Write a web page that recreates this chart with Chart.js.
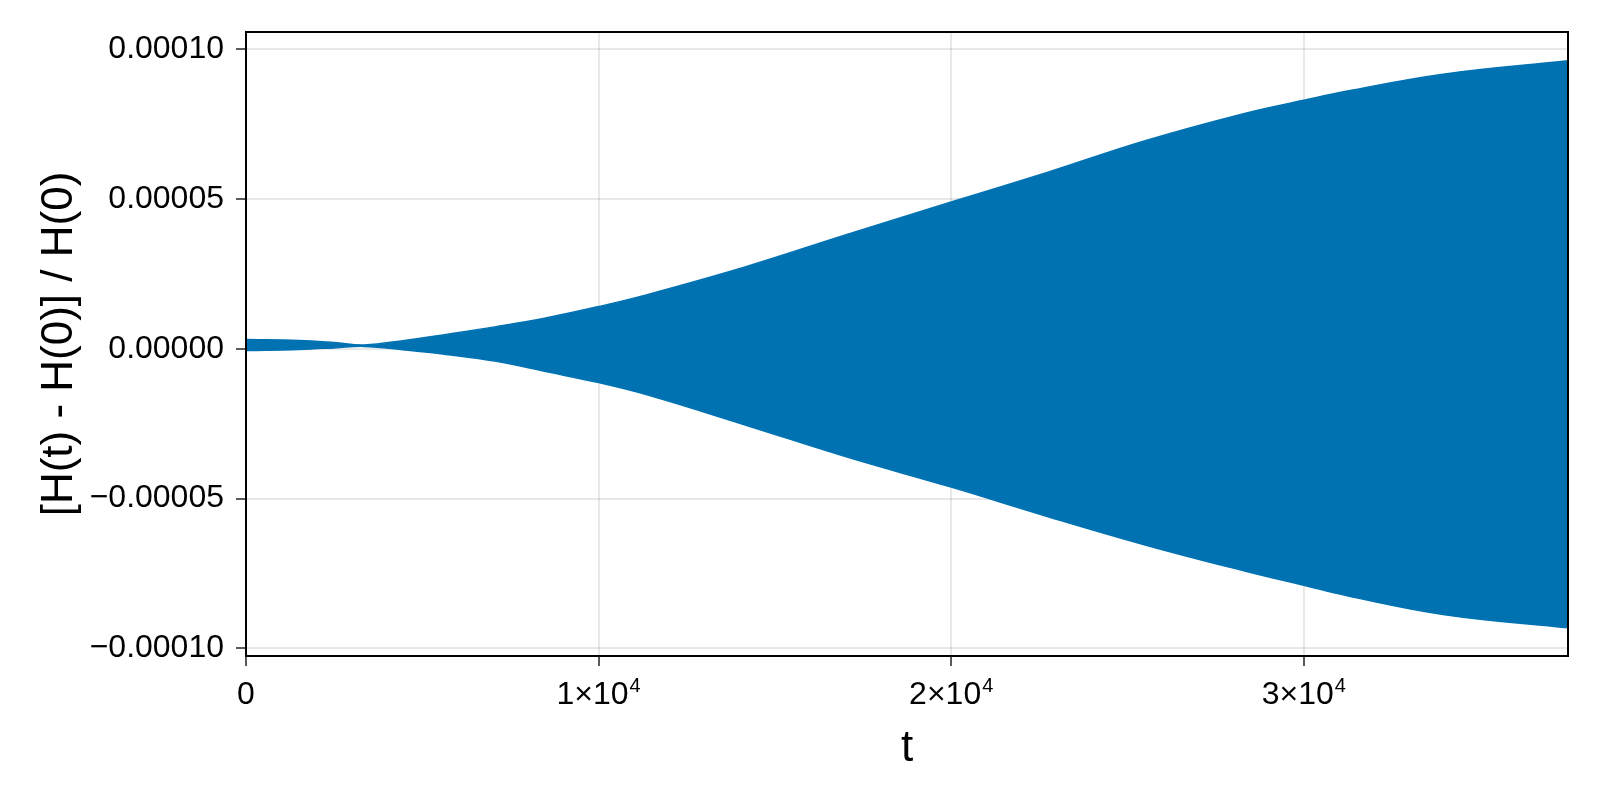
<!DOCTYPE html>
<html>
<head>
<meta charset="utf-8">
<title>energy drift</title>
<script src="https://cdn.jsdelivr.net/npm/chart.js@4.4.0/dist/chart.umd.min.js"></script>
<style>
  html, body { margin: 0; padding: 0; background: #fff; }
  #chart { display: block; }
</style>
</head>
<body>
<canvas id="chart" width="1600" height="800"></canvas>
<script>
// envelope of the oscillating relative energy error
const times = [0, 1500, 2500, 3350, 4500, 5670, 7090, 8500, 10000, 11350, 14200, 17000, 20000, 22700, 25500, 28350, 30000, 31200, 34000, 37500];
const upper = [3.1e-6, 2.8e-6, 2.1e-6, 1.3e-6, 2.8e-6, 4.8e-6, 7.4e-6, 1.03e-5, 1.41e-5, 1.80e-5, 2.75e-5, 3.80e-5, 4.90e-5, 5.88e-5, 6.95e-5, 7.87e-5, 8.30e-5, 8.60e-5, 9.18e-5, 9.62e-5];
const lower = [-0.6e-6, -0.2e-6, 0.3e-6, 0.8e-6, -0.4e-6, -1.9e-6, -4.2e-6, -7.6e-6, -1.13e-5, -1.53e-5, -2.56e-5, -3.60e-5, -4.62e-5, -5.59e-5, -6.55e-5, -7.43e-5, -7.90e-5, -8.24e-5, -8.88e-5, -9.32e-5];

const xTicks = [0, 10000, 20000, 30000];
// mantissa, exponent for the x tick labels
const xTickBase = ['0', '1×10', '2×10', '3×10'];
const xTickExp = ['', '4', '4', '4'];
const yTicks = [-0.0001, -0.00005, 0, 0.00005, 0.0001];
const yTickLabels = ['−0.00010', '−0.00005', '0.00000', '0.00005', '0.00010'];

const blue = 'rgb(0,114,178)';
const font = 'Liberation Sans';

function pts(ys) {
  return times.map(function(t, i) { return { x: t, y: ys[i] }; });
}

// box around the plot + x tick labels with a real superscript
const frame = {
  id: 'frame',
  afterDatasetsDraw: function(chart) {
    const a = chart.chartArea;
    const ctx = chart.ctx;
    ctx.save();
    ctx.strokeStyle = '#000';
    ctx.lineWidth = 2;
    ctx.strokeRect(a.left, a.top, a.right - a.left, a.bottom - a.top);
    ctx.restore();
  },
  afterDraw: function(chart) {
    const ctx = chart.ctx;
    const sx = chart.scales.x;
    const base = chart.chartArea.bottom + 48;
    ctx.save();
    ctx.fillStyle = '#000';
    ctx.textBaseline = 'alphabetic';
    ctx.textAlign = 'left';
    for (let i = 0; i < xTicks.length; i++) {
      const px = sx.getPixelForValue(xTicks[i]);
      ctx.font = '32px "' + font + '"';
      const w1 = ctx.measureText(xTickBase[i]).width;
      ctx.font = '20px "' + font + '"';
      const w2 = xTickExp[i] ? ctx.measureText(xTickExp[i]).width + 1 : 0;
      const x0 = px - (w1 + w2) / 2;
      ctx.font = '32px "' + font + '"';
      ctx.fillText(xTickBase[i], x0, base);
      if (xTickExp[i]) {
        ctx.font = '20px "' + font + '"';
        ctx.fillText(xTickExp[i], x0 + w1 + 1, base - 12);
      }
    }
    ctx.restore();
  }
};

const config = {
  type: 'line',
  data: {
    datasets: [{
      data: pts(upper),
      borderColor: blue,
      backgroundColor: blue,
      borderWidth: 1.5,
      pointRadius: 0,
      tension: 0.4,
      fill: '+1'
    }, {
      data: pts(lower),
      borderColor: blue,
      backgroundColor: blue,
      borderWidth: 1.5,
      pointRadius: 0,
      tension: 0.4,
      fill: false
    }]
  },
  options: {
    responsive: false,
    animation: false,
    devicePixelRatio: 1,
    layout: { padding: { left: 0, top: 32, right: 32, bottom: 0 } },
    plugins: {
      legend: { display: false },
      tooltip: { enabled: false }
    },
    scales: {
      x: {
        type: 'linear',
        min: 0,
        max: 37493,
        afterBuildTicks: function(s) { s.ticks = xTicks.map(function(v) { return { value: v }; }); },
        afterFit: function(s) { s.height = 144; },
        border: { display: false },
        grid: {
          color: 'rgba(0,0,0,0.09)',
          lineWidth: 2,
          tickLength: 10,
          tickColor: '#000',
          tickWidth: 1.3
        },
        ticks: {
          padding: 8,
          maxRotation: 0,
          color: 'rgba(0,0,0,0)',
          font: { family: font, size: 32 },
          callback: function() { return ''; }
        },
        title: {
          display: true,
          text: 't',
          color: '#000',
          font: { family: font, size: 44 },
          padding: { top: 0, bottom: 25 }
        }
      },
      y: {
        type: 'linear',
        min: -0.0001026,
        max: 0.0001058,
        afterBuildTicks: function(s) { s.ticks = yTicks.map(function(v) { return { value: v }; }); },
        afterFit: function(s) { s.width = 246; },
        border: { display: false },
        grid: {
          color: 'rgba(0,0,0,0.09)',
          lineWidth: 2,
          tickLength: 10,
          tickColor: '#000',
          tickWidth: 1.3
        },
        ticks: {
          padding: 12,
          color: '#000',
          font: { family: font, size: 32 },
          callback: function(v) { return yTickLabels[yTicks.indexOf(v)]; }
        },
        title: {
          display: true,
          text: '[H(t) - H(0)] / H(0)',
          color: '#000',
          font: { family: font, size: 44 },
          padding: { top: 33, bottom: 0 }
        }
      }
    }
  },
  plugins: [frame]
};

const chart = new Chart(document.getElementById('chart'), config);
</script>
</body>
</html>
